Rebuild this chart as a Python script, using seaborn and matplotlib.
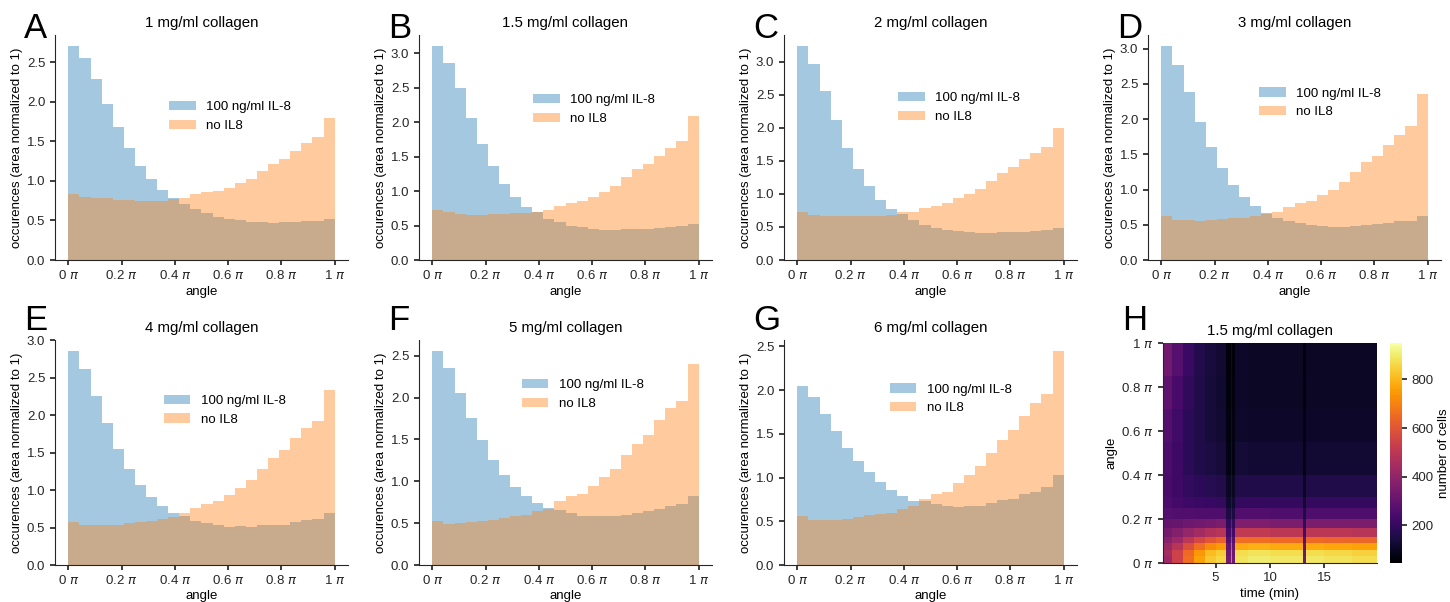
import numpy as np
import pandas as pd
import seaborn as sns
import matplotlib.pyplot as plt
from matplotlib.ticker import FuncFormatter

# histogram heights (area normalized to 1), 24 bins over 0..pi
il8_1 = [2.71, 2.55, 2.29, 1.97, 1.68, 1.42, 1.19, 1.03, 0.89, 0.78, 0.71, 0.64,
         0.59, 0.55, 0.52, 0.50, 0.48, 0.48, 0.47, 0.48, 0.48, 0.49, 0.49, 0.52]
ctrl_1 = [0.83, 0.80, 0.78, 0.78, 0.76, 0.76, 0.75, 0.75, 0.75, 0.77, 0.78, 0.83,
          0.86, 0.87, 0.91, 0.98, 1.03, 1.13, 1.21, 1.28, 1.38, 1.48, 1.56, 1.80]
il8_15 = [3.11, 2.86, 2.49, 2.06, 1.68, 1.36, 1.10, 0.92, 0.77, 0.69, 0.60, 0.55,
          0.50, 0.48, 0.45, 0.44, 0.44, 0.45, 0.45, 0.45, 0.46, 0.48, 0.49, 0.52]
ctrl_15 = [0.73, 0.69, 0.67, 0.66, 0.66, 0.67, 0.67, 0.68, 0.68, 0.69, 0.73, 0.79,
           0.83, 0.86, 0.92, 0.99, 1.08, 1.20, 1.32, 1.39, 1.51, 1.63, 1.73, 2.09]
il8_2 = [3.24, 2.97, 2.56, 2.12, 1.70, 1.37, 1.12, 0.91, 0.77, 0.70, 0.60, 0.53,
         0.48, 0.46, 0.44, 0.43, 0.41, 0.41, 0.43, 0.43, 0.43, 0.44, 0.46, 0.49]
ctrl_2 = [0.72, 0.68, 0.67, 0.67, 0.66, 0.67, 0.67, 0.67, 0.68, 0.72, 0.73, 0.78,
          0.82, 0.86, 0.93, 1.00, 1.08, 1.19, 1.32, 1.40, 1.52, 1.62, 1.71, 1.99]
il8_3 = [3.04, 2.76, 2.38, 1.96, 1.60, 1.31, 1.07, 0.90, 0.77, 0.67, 0.60, 0.56,
         0.52, 0.50, 0.48, 0.47, 0.47, 0.48, 0.50, 0.51, 0.53, 0.55, 0.56, 0.62]
ctrl_3 = [0.63, 0.57, 0.57, 0.56, 0.57, 0.58, 0.59, 0.60, 0.63, 0.65, 0.68, 0.75,
          0.81, 0.84, 0.92, 1.00, 1.10, 1.25, 1.39, 1.47, 1.63, 1.78, 1.90, 2.36]
il8_4 = [2.86, 2.62, 2.25, 1.89, 1.55, 1.28, 1.07, 0.91, 0.79, 0.70, 0.65, 0.59,
         0.56, 0.53, 0.51, 0.52, 0.51, 0.53, 0.54, 0.54, 0.58, 0.60, 0.62, 0.69]
ctrl_4 = [0.57, 0.53, 0.53, 0.53, 0.54, 0.56, 0.58, 0.59, 0.62, 0.64, 0.69, 0.76,
          0.81, 0.86, 0.94, 1.03, 1.13, 1.28, 1.43, 1.53, 1.69, 1.83, 1.92, 2.33]
il8_5 = [2.56, 2.35, 2.06, 1.76, 1.49, 1.25, 1.07, 0.93, 0.83, 0.74, 0.68, 0.66,
         0.62, 0.59, 0.58, 0.58, 0.58, 0.60, 0.62, 0.64, 0.67, 0.70, 0.73, 0.82]
ctrl_5 = [0.53, 0.49, 0.50, 0.51, 0.52, 0.54, 0.56, 0.58, 0.60, 0.64, 0.67, 0.76,
          0.82, 0.85, 0.94, 1.05, 1.15, 1.31, 1.45, 1.55, 1.73, 1.87, 1.96, 2.40]
il8_6 = [2.05, 1.92, 1.73, 1.53, 1.34, 1.19, 1.06, 0.95, 0.86, 0.79, 0.73, 0.73,
         0.70, 0.67, 0.66, 0.67, 0.67, 0.71, 0.74, 0.76, 0.81, 0.84, 0.89, 1.03]
ctrl_6 = [0.56, 0.51, 0.52, 0.51, 0.53, 0.55, 0.57, 0.58, 0.60, 0.64, 0.67, 0.75,
          0.81, 0.84, 0.94, 1.03, 1.13, 1.28, 1.43, 1.54, 1.70, 1.85, 1.96, 2.45]

titles = ["1 mg/ml collagen", "1.5 mg/ml collagen", "2 mg/ml collagen", "3 mg/ml collagen",
          "4 mg/ml collagen", "5 mg/ml collagen", "6 mg/ml collagen"]
il8_sets = [il8_1, il8_15, il8_2, il8_3, il8_4, il8_5, il8_6]
ctrl_sets = [ctrl_1, ctrl_15, ctrl_2, ctrl_3, ctrl_4, ctrl_5, ctrl_6]

# heatmap (panel H): angle bins (units of pi) x time bins (min), number of cells
hm_angle_edges = [0, 0.03, 0.06, 0.09, 0.12, 0.16, 0.2, 0.25, 0.3, 0.4, 0.55, 0.7, 0.85, 1.0]
hm_time_edges = [0.17, 1, 2, 3, 4, 5, 5.98, 6.4, 6.55, 6.75, 8, 10, 13.0, 13.3, 15, 17.5, 19.83]
hm_counts = [
    [430, 540, 660, 760, 830, 860, 330, 700, 330, 880, 900, 890, 330, 890, 880, 870],
    [450, 540, 650, 740, 810, 840, 320, 680, 320, 870, 880, 870, 320, 870, 860, 850],
    [420, 490, 580, 660, 720, 750, 300, 620, 300, 780, 790, 780, 300, 780, 770, 760],
    [380, 430, 500, 560, 600, 630, 270, 540, 270, 660, 660, 650, 270, 650, 640, 640],
    [340, 370, 410, 440, 470, 490, 230, 430, 230, 510, 510, 500, 230, 500, 500, 490],
    [300, 310, 320, 330, 340, 350, 190, 330, 190, 360, 360, 350, 190, 350, 350, 350],
    [270, 260, 260, 255, 255, 255, 150, 250, 150, 260, 260, 255, 150, 255, 255, 255],
    [250, 235, 220, 210, 205, 200, 120, 200, 120, 200, 200, 200, 120, 200, 200, 200],
    [240, 215, 195, 180, 170, 165, 100, 160, 100, 160, 160, 160, 100, 160, 160, 160],
    [250, 215, 180, 160, 145, 135, 80, 130, 80, 130, 125, 125, 80, 125, 125, 125],
    [265, 225, 180, 155, 135, 125, 70, 120, 70, 115, 110, 110, 70, 110, 110, 110],
    [290, 240, 190, 155, 135, 120, 65, 115, 65, 110, 105, 105, 65, 105, 105, 105],
    [330, 270, 210, 165, 140, 125, 60, 115, 60, 110, 105, 105, 60, 105, 105, 105],
]

sns.set_theme(style="ticks")
plt.rcParams["font.family"] = ["Liberation Sans", "DejaVu Sans"]
plt.rcParams.update({"font.size": 9, "axes.titlesize": 10.8, "axes.labelsize": 9.5,
                     "xtick.labelsize": 9.5, "ytick.labelsize": 9.5, "legend.fontsize": 9.5,
                     "xtick.major.size": 3.5, "ytick.major.size": 3.5,
                     "xtick.major.pad": 3.0, "ytick.major.pad": 3.5,
                     "axes.labelpad": 2.5,
                     "axes.edgecolor": "0.15", "axes.linewidth": 0.8,
                     "text.color": "black", "axes.labelcolor": "black",
                     "xtick.color": "0.15", "ytick.color": "0.15"})

W, H = 1450, 602
fig = plt.figure(figsize=(W / 100, H / 100), dpi=100)

pi_fmt = FuncFormatter(lambda v, p: f"{v:g} $\\pi$")

# pixel layout of the axes
col_left = [55, 419, 784, 1148]
row_bottom = [260, 565]
ax_w, ax_h = 293, 225
legend_anchor = [(0.35, 0.76), (0.35, 0.79), (0.35, 0.80), (0.34, 0.82),
                 (0.33, 0.81), (0.31, 0.88), (0.32, 0.86)]
letters = "ABCDEFGH"
letter_x = [24, 388, 753, 1117, 24, 388, 753, 1122]
letter_base = [38, 330]

n_bins = 24
centers = (np.arange(n_bins) + 0.5) / n_bins

for i in range(7):
    r, c = divmod(i, 4)
    ax = fig.add_axes([col_left[c] / W, (H - row_bottom[r]) / H, ax_w / W, ax_h / H])
    df = pd.DataFrame({"angle": centers, "il8": il8_sets[i], "ctrl": ctrl_sets[i]})
    sns.histplot(data=df, x="angle", weights="il8", binwidth=1 / n_bins, binrange=(0, 1),
                 element="step", fill=True, alpha=0.4, linewidth=0, color="tab:blue",
                 label="100 ng/ml IL-8", ax=ax)
    sns.histplot(data=df, x="angle", weights="ctrl", binwidth=1 / n_bins, binrange=(0, 1),
                 element="step", fill=True, alpha=0.4, linewidth=0, color="tab:orange",
                 label="no IL8", ax=ax)
    ax.set_xticks([0, 0.2, 0.4, 0.6, 0.8, 1.0])
    ax.xaxis.set_major_formatter(pi_fmt)
    ax.set_xlabel("angle")
    ax.set_ylabel("occurences (area normalized to 1)")
    ax.set_title(titles[i])
    ax.legend(frameon=False, loc="upper left", bbox_to_anchor=legend_anchor[i])
    sns.despine(ax=ax)
    fig.text(letter_x[i] / W, 1 - letter_base[r] / H, letters[i],
             fontsize=25, va="baseline")

# panel H heatmap
axh = fig.add_axes([1163 / W, 39 / H, 214 / W, 220 / H])
cax = fig.add_axes([1390 / W, 39 / H, 12 / W, 220 / H])
mesh = axh.pcolormesh(hm_time_edges, hm_angle_edges, np.array(hm_counts),
                      cmap="inferno", vmin=45, vmax=950, shading="flat")
axh.set_yticks([0, 0.2, 0.4, 0.6, 0.8, 1.0])
axh.yaxis.set_major_formatter(pi_fmt)
axh.set_xticks([5, 10, 15])
axh.set_xlabel("time (min)")
axh.set_ylabel("angle")
axh.set_title("1.5 mg/ml collagen")
sns.despine(ax=axh)
cb = fig.colorbar(mesh, cax=cax)
cb.set_ticks([200, 400, 600, 800])
cb.set_label("number of cells", labelpad=3)
cb.outline.set_visible(False)
fig.text(letter_x[7] / W, 1 - letter_base[1] / H, "H", fontsize=25, va="baseline")

fig.savefig("out.png", dpi=100)
